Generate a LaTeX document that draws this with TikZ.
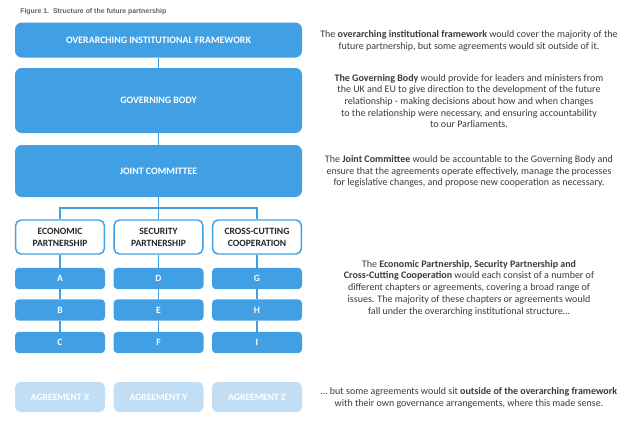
\documentclass[tikz,border=0pt]{standalone}
\usepackage{fontspec}
\setmainfont{Carlito}
\newfontfamily\titlefont{Liberation Sans}
\definecolor{partblue}{HTML}{41A0E4}
\definecolor{paleblue}{HTML}{C2DEF5}
\definecolor{bodygray}{HTML}{3A3A3A}
\tikzset{
  bigbox/.style={draw=none, fill=partblue, rounded corners=5pt, minimum width=215.25pt, inner sep=0pt, text=white, font=\fontsize{7.4}{8}\selectfont\bfseries},
  headbox/.style={draw=partblue, line width=1.1pt, fill=white, rounded corners=4pt, minimum width=66.5pt, minimum height=25.5pt, inner sep=0pt, align=center, text=black!85, font=\fontsize{7.2}{9}\selectfont\bfseries},
  chapbox/.style={draw=none, fill=partblue, rounded corners=3pt, minimum width=67.5pt, minimum height=16pt, inner sep=0pt, text=white, font=\fontsize{7.2}{8}\selectfont\bfseries},
  outbox/.style={draw=none, fill=paleblue, rounded corners=4pt, minimum width=67.5pt, minimum height=22.5pt, inner sep=0pt, text=white, font=\fontsize{7.2}{8}\selectfont\bfseries},
  link/.style={draw=partblue, line width=0.9pt},
  note/.style={align=center, inner sep=0pt, text=bodygray, font=\fontsize{7.5}{8.8}\selectfont}
}
\begin{document}
\begin{tikzpicture}[x=0.75pt,y=0.75pt,yscale=-1,xscale=1]
\useasboundingbox (0,0) rectangle (640,421);

% Title
\draw (20,11.5) node [anchor=west] [inner sep=0pt] [font=\titlefont\fontsize{5.2}{6}\selectfont\bfseries] [text=bodygray!80] (title) {Figure 1.\ \ Structure of the future partnership};

%Shape: Rounded Rectangle [frame]
\node [bigbox, minimum height=26.25pt] (frame) at (158.5,40) {OVERARCHING INSTITUTIONAL FRAMEWORK};
%Shape: Rounded Rectangle [govbody]
\node [bigbox, minimum height=48.75pt] (govbody) at (158.5,100.5) {GOVERNING BODY};
%Shape: Rounded Rectangle [jointcom]
\node [bigbox, minimum height=39pt] (jointcom) at (158.5,171) {JOINT COMMITTEE};

%Shape: Partnership heads
\node [headbox] (econ) at (60,237) {ECONOMIC\\PARTNERSHIP};
\node [headbox] (secur) at (158.5,237) {SECURITY\\PARTNERSHIP};
\node [headbox] (cross) at (257,237) {CROSS-CUTTING\\COOPERATION};

%Shape: Chapters
\foreach \col/\xpos/\ca/\cb/\cc in {econ/60/A/B/C, secur/158.5/D/E/F, cross/257/G/H/I}{
  \node [chapbox] (\col1) at (\xpos,278.5) {\ca};
  \node [chapbox] (\col2) at (\xpos,310) {\cb};
  \node [chapbox] (\col3) at (\xpos,342.5) {\cc};
  \draw [link] (\col.south) -- (\col1.north);
  \draw [link] (\col1.south) -- (\col2.north);
  \draw [link] (\col2.south) -- (\col3.north);
}

%Shape: Agreements outside
\node [outbox] (agrx) at (60,397) {AGREEMENT X};
\node [outbox] (agry) at (158.5,397) {AGREEMENT Y};
\node [outbox] (agrz) at (257,397) {AGREEMENT Z};

%Straight Lines
\coordinate (branch) at (158.5,208);
\draw [link] (frame.south) -- (govbody.north);
\draw [link] (govbody.south) -- (jointcom.north);
\draw [link] (jointcom.south) -- (secur.north);
\draw [link] (econ.north) |- (branch) -| (cross.north);

% Text Node
\node [note] (notframe) at (469,40.5) {The \textbf{overarching institutional framework} would cover the majority of the\\future partnership, but some agreements would sit outside of it.};
% Text Node
\node [note] (notgov) at (469,101) {\textbf{The Governing Body} would provide for leaders and ministers from\\the UK and EU to give direction to the development of the future\\relationship - making decisions about how and when changes\\to the relationship were necessary, and ensuring accountability\\to our Parliaments.};
% Text Node
\node [note] (notjoint) at (469,171.5) {The \textbf{Joint Committee} would be accountable to the Governing Body and\\ensure that the agreements operate effectively, manage the processes\\for legislative changes, and propose new cooperation as necessary.};
% Text Node
\node [note] (notparts) at (469,288) {The \textbf{Economic Partnership, Security Partnership and}\\\textbf{Cross-Cutting Cooperation} would each consist of a number of\\different chapters or agreements, covering a broad range of\\issues. The majority of these chapters or agreements would\\fall under the overarching institutional structure\ldots};
% Text Node
\node [note] (notout) at (469,397.5) {\ldots\ but some agreements would sit \textbf{outside of the overarching framework}\\with their own governance arrangements, where this made sense.};

\end{tikzpicture}
\end{document}
